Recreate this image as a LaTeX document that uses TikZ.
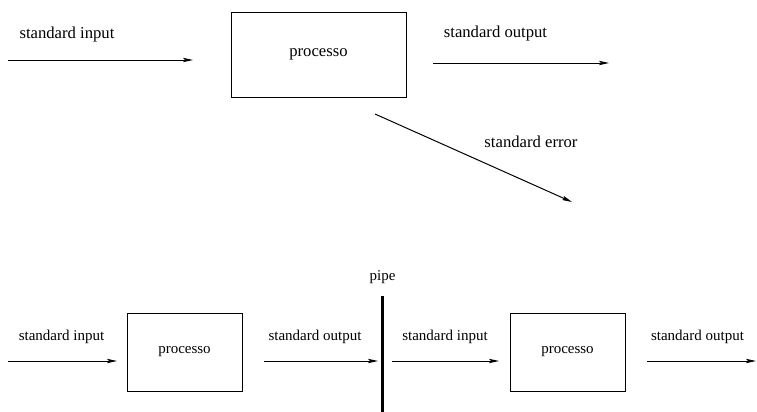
\documentclass[tikz,border=0pt]{standalone}
\usepackage{fontspec}
\setmainfont{Liberation Serif}
\usetikzlibrary{arrows.meta}

\begin{document}
\begin{tikzpicture}[x=0.6pt, y=-0.6pt,
    flow/.style={line width=0.6pt, -{Stealth[length=6pt, width=2.6pt, inset=1.2pt]}},
    proc/.style={draw, line width=0.6pt, inner sep=0pt},
    big/.style={font=\fontsize{10}{12}\selectfont},
    small/.style={font=\fontsize{9}{11}\selectfont}]
        \useasboundingbox (0,0) rectangle (757,412);

        % Un solo processo con i tre flussi
        \node[proc, big, minimum width=105pt, minimum height=51pt] (p1) at (318.5,54.5) {processo};
        \node[big] (in1) at (67,34) {standard input};
        \node[big] (out1) at (495.5,33) {standard output};
        \node[big] (err1) at (531,142) {standard error};

        \coordinate (a1) at (8,60);    \coordinate (b1) at (193,60);
        \coordinate (a2) at (433,63);  \coordinate (b2) at (609,63);
        \coordinate (a3) at (375,114); \coordinate (b3) at (572,202);
        \draw[flow] (a1) -- (b1);
        \draw[flow] (a2) -- (b2);
        \draw[flow] (a3) -- (b3);

        % Due processi collegati da una pipe
        \node[proc, small, minimum width=69pt, minimum height=46.8pt] (p2) at (184.5,352) {processo};
        \node[proc, small, minimum width=69pt, minimum height=46.8pt] (p3) at (567.5,352) {processo};
        \node[small] (in2) at (61.5,337) {standard input};
        \node[small] (out2) at (315,337) {standard output};
        \node[small] (in3) at (445,337) {standard input};
        \node[small] (out3) at (697.5,337) {standard output};

        \coordinate (a4) at (8,361);   \coordinate (b4) at (117,361);
        \coordinate (a5) at (264,361); \coordinate (b5) at (378,361);
        \coordinate (a6) at (392,361); \coordinate (b6) at (499,361);
        \coordinate (a7) at (647,361); \coordinate (b7) at (756,361);
        \draw[flow] (a4) -- (b4);
        \draw[flow] (a5) -- (b5);
        \draw[flow] (a6) -- (b6);
        \draw[flow] (a7) -- (b7);

        % La pipe
        \node[small] (pipe) at (382.5,277) {pipe};
        \coordinate (pt) at (382,296); \coordinate (pb) at (382,412);
        \draw[line width=1.8pt] (pt) -- (pb);
\end{tikzpicture}
\end{document}
